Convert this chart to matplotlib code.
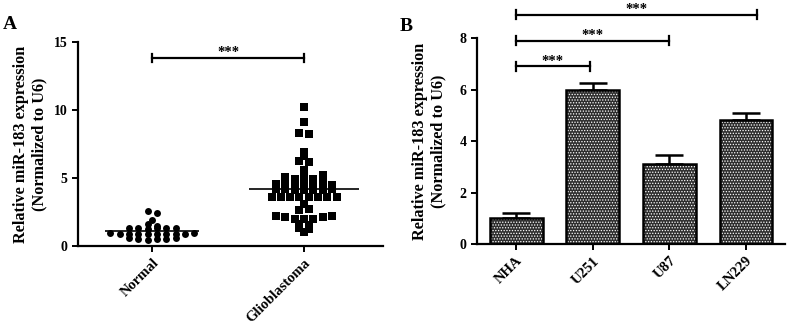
import numpy as np
import matplotlib
matplotlib.use("Agg")
import matplotlib.pyplot as plt

plt.rcParams['font.family'] = ['Liberation Serif', 'DejaVu Serif']
plt.rcParams['font.weight'] = 'bold'
plt.rcParams['hatch.linewidth'] = 0.6

# panel A data
groups = ['Normal', 'Glioblastoma']
normal = [2.55, 2.45, 1.9, 1.6, 1.5,
          1.3, 1.3, 1.25, 1.3, 1.3, 1.3,
          0.95, 0.9, 0.9, 0.85, 0.9, 0.9, 0.85, 0.9, 0.9, 0.95,
          0.6, 0.5, 0.45, 0.5, 0.55, 0.6]
glio = [10.2, 9.1, 8.3, 8.2, 6.9, 6.6, 6.25, 6.2, 5.6,
        5.05, 4.95, 5.0, 4.95, 5.25,
        4.55, 4.5, 4.6, 4.65, 4.6, 4.6, 4.5,
        4.2, 4.2, 4.15, 4.1, 4.1, 4.15, 4.2,
        3.6, 3.6, 3.6, 3.6, 3.6, 3.6, 3.6, 3.6, 3.1, 2.65, 2.7,
        2.2, 2.1, 2.0, 2.0, 2.0, 2.1, 2.2, 1.6, 1.55, 1.3, 1.25, 1.0]

# panel B data
cells = ['NHA', 'U251', 'U87', 'LN229']
expr = [1.0, 6.0, 3.1, 4.8]
sem = [0.22, 0.25, 0.35, 0.3]

ylab = 'Relative miR-183 expression\n(Normalized to U6)'

fig = plt.figure(figsize=(7.87, 3.24), dpi=100)
axA = fig.add_axes([0.0991, 0.2407, 0.3875, 0.6296])
axB = fig.add_axes([0.6061, 0.2469, 0.3914, 0.6358])


def style(ax):
    for s in ['top', 'right']:
        ax.spines[s].set_visible(False)
    for s in ['left', 'bottom']:
        ax.spines[s].set_linewidth(1.6)
    ax.tick_params(width=1.4, length=4, labelsize=10)
    ax.set_ylabel(ylab, fontsize=11.7, fontweight='bold')
    ax.yaxis.set_label_coords(-0.10, 0.5)


def rows_scatter(ax, xc, vals, step, gap=9.3):
    # GraphPad-like column scatter: close values share a row, row is centred on the column
    vals = np.asarray(vals)
    order = np.argsort(-vals, kind='stable')
    rows, cur = [], [order[0]]
    for a, b in zip(order[:-1], order[1:]):
        if vals[a] - vals[b] > step + 1e-9:
            rows.append(cur)
            cur = []
        cur.append(b)
    rows.append(cur)
    tr = ax.transData
    x0 = tr.transform((xc, 0))[0]
    xs = np.zeros(len(vals))
    for r in rows:
        r = sorted(r)
        for j, i in enumerate(r):
            px = x0 + (j - (len(r) - 1) / 2) * gap
            py = tr.transform((xc, vals[i]))[1]
            xs[i] = tr.inverted().transform((px, py))[0]
    return xs


# ---- panel A
axA.set_xlim(-0.49, 1.52)
axA.set_ylim(0, 15)
style(axA)
axA.set_yticks([0, 5, 10, 15])
axA.set_xticks([0, 1])
axA.set_xticklabels(groups, rotation=45, ha='right', rotation_mode='anchor', fontsize=10.5)

xn = rows_scatter(axA, 0, normal, step=0.15)
xg = rows_scatter(axA, 1, glio, step=0.22)
axA.scatter(xn, normal, s=25, marker='o', color='black', linewidths=0, clip_on=False, zorder=3)
axA.scatter(xg, glio, s=28, marker='s', color='black', linewidths=0, clip_on=False, zorder=3)
axA.hlines(np.mean(normal), -0.31, 0.31, color='black', lw=1.2, zorder=4)
axA.hlines(np.mean(glio), 0.64, 1.36, color='black', lw=1.2, zorder=4)

# significance bar
axA.plot([0, 1], [13.8, 13.8], color='black', lw=1.6)
axA.plot([0, 0], [13.5, 14.1], color='black', lw=1.6)
axA.plot([1, 1], [13.5, 14.1], color='black', lw=1.6)
axA.text(0.5, 13.75, '***', ha='center', va='bottom', fontsize=10.5)
fig.text(0.004, 0.91, 'A', fontsize=14, fontweight='bold')

# ---- panel B
x = np.arange(len(cells))
axB.set_xlim(-0.51, 3.51)
axB.set_ylim(0, 8)
style(axB)
axB.set_yticks([0, 2, 4, 6, 8])
axB.set_xticks(x)
axB.set_xticklabels(cells, rotation=45, ha='right', rotation_mode='anchor', fontsize=10.5)

axB.bar(x, expr, width=0.69, color='#2e2e2e', edgecolor='white', hatch='......', lw=0, zorder=2)
axB.bar(x, expr, width=0.69, fill=False, edgecolor='black', lw=1.8, zorder=3)
axB.errorbar(x, expr, yerr=[np.zeros(len(sem)), sem], fmt='none', ecolor='black',
             elinewidth=1.8, capsize=10, capthick=1.8, zorder=1)

sig = [(0, 0.96, 6.9), (0, 2.0, 7.9), (0, 3.15, 8.9)]
for a, b, h in sig:
    axB.plot([a, b], [h, h], color='black', lw=1.6, clip_on=False)
    axB.plot([a, a], [h - 0.17, h + 0.17], color='black', lw=1.6, clip_on=False)
    axB.plot([b, b], [h - 0.17, h + 0.17], color='black', lw=1.6, clip_on=False)
    axB.text((a + b) / 2, h - 0.06, '***', ha='center', va='bottom', fontsize=10.5, clip_on=False)
fig.text(0.508, 0.905, 'B', fontsize=14, fontweight='bold')

fig.savefig('out.png', dpi=100)
